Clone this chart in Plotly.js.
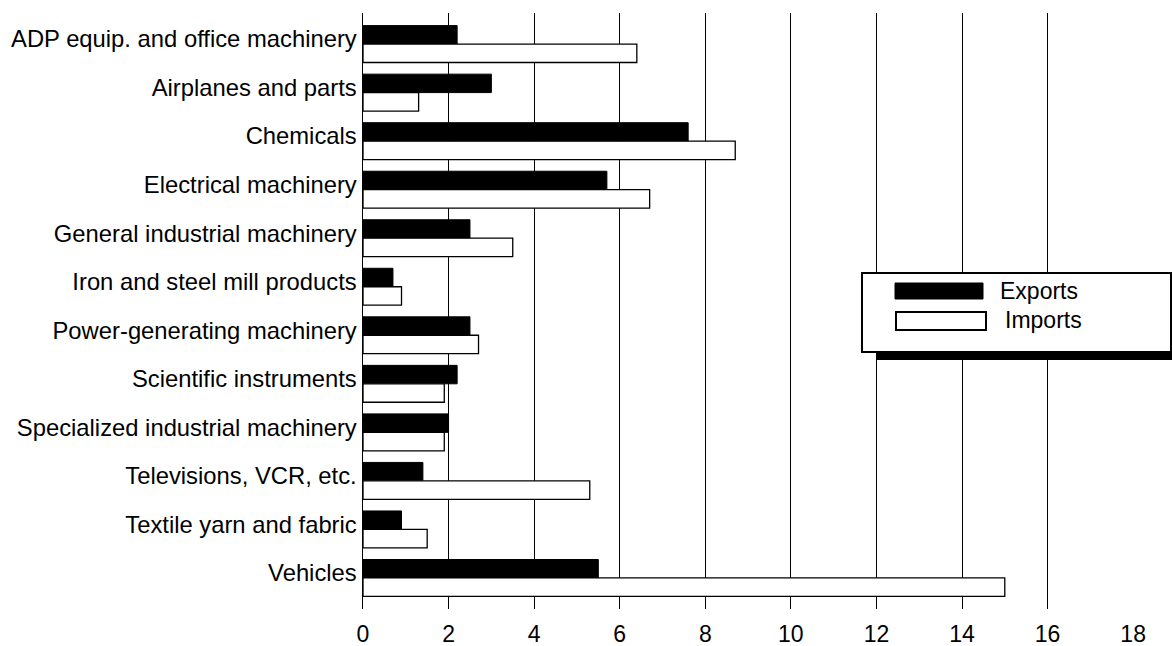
<!DOCTYPE html>
<html>
<head>
<meta charset="utf-8">
<script src="https://cdn.plot.ly/plotly-3.0.1.min.js"></script>
<style>html,body{margin:0;padding:0;background:#fff;}#chart{width:1172px;height:646px;}</style>
</head>
<body>
<div id="chart"></div>
<script>
const categories = [
  "ADP equip. and office machinery",
  "Airplanes and parts",
  "Chemicals",
  "Electrical machinery",
  "General industrial machinery",
  "Iron and steel mill products",
  "Power-generating machinery",
  "Scientific instruments",
  "Specialized industrial machinery",
  "Televisions, VCR, etc.",
  "Textile yarn and fabric",
  "Vehicles"
];
const exportsVals = [2.2, 3.0, 7.6, 5.7, 2.5, 0.7, 2.5, 2.2, 2.0, 1.4, 0.9, 5.5];
const importsVals = [6.4, 1.3, 8.7, 6.7, 3.5, 0.9, 2.7, 1.9, 1.9, 5.3, 1.5, 15.0];
const xTickVals = [0, 2, 4, 6, 8, 10, 12, 14, 16, 18];
const seriesNames = ["Exports", "Imports"];

const W = 1172, H = 646;
const L = 363, R = 1134, T = 13, B = 609;
const px2x = p => (p - L) / (R - L);
const py2y = p => (B - p) / (B - T);
const FONT = "Liberation Sans, Arial, Helvetica, sans-serif";

const traces = [
  {
    type: "bar", orientation: "h", name: seriesNames[0],
    y: categories, x: exportsVals,
    marker: {color: "#000", line: {color: "#000", width: 1}},
    hoverinfo: "x+y"
  },
  {
    type: "bar", orientation: "h", name: seriesNames[1],
    y: categories, x: importsVals,
    marker: {color: "#fff", line: {color: "#000", width: 1.3}},
    hoverinfo: "x+y"
  }
];

const shapes = [
  {type: "rect", xref: "paper", yref: "paper", layer: "above",
   x0: px2x(876), x1: px2x(1180), y0: py2y(360), y1: py2y(281),
   fillcolor: "#000", line: {width: 0}},
  {type: "rect", xref: "paper", yref: "paper", layer: "above",
   x0: px2x(862), x1: px2x(1171), y0: py2y(352), y1: py2y(273),
   fillcolor: "#fff", line: {color: "#000", width: 2}},
  {type: "rect", xref: "paper", yref: "paper", layer: "above",
   x0: px2x(895), x1: px2x(983), y0: py2y(299), y1: py2y(283),
   fillcolor: "#000", line: {color: "#000", width: 1}},
  {type: "rect", xref: "paper", yref: "paper", layer: "above",
   x0: px2x(896), x1: px2x(986), y0: py2y(330), y1: py2y(312),
   fillcolor: "#fff", line: {color: "#000", width: 2}}
];

const annotations = [
  {xref: "paper", yref: "paper", x: px2x(998), y: py2y(291), xanchor: "left", yanchor: "middle",
   text: seriesNames[0], showarrow: false, font: {family: FONT, size: 23, color: "#000"}},
  {xref: "paper", yref: "paper", x: px2x(1003), y: py2y(320), xanchor: "left", yanchor: "middle",
   text: seriesNames[1], showarrow: false, font: {family: FONT, size: 23, color: "#000"}}
];

const layout = {
  width: W, height: H,
  margin: {l: L, r: W - R, t: T, b: H - B, pad: 0},
  paper_bgcolor: "#fff", plot_bgcolor: "#fff",
  barmode: "group", bargap: 0.24, bargroupgap: 0,
  showlegend: false,
  font: {family: FONT, size: 23, color: "#000"},
  xaxis: {
    range: [0, 18.02], tickvals: xTickVals, ticktext: xTickVals.map(String),
    showgrid: true, gridcolor: "#000", gridwidth: 1,
    zeroline: false, showline: false, ticks: "",
    ticklabelstandoff: 9,
    tickfont: {family: FONT, size: 23, color: "#000"}
  },
  yaxis: {
    type: "category", categoryorder: "array", categoryarray: categories,
    range: [11.64, -0.64],
    showgrid: false, zeroline: false,
    showline: true, linecolor: "#000", linewidth: 1.5,
    ticks: "", ticklabelstandoff: 0, ticklabelshift: 5,
    tickfont: {family: FONT, size: 23.8, color: "#000"}
  },
  shapes: shapes,
  annotations: annotations
};

Plotly.newPlot("chart", traces, layout, {displayModeBar: false, staticPlot: true});
</script>
</body>
</html>
